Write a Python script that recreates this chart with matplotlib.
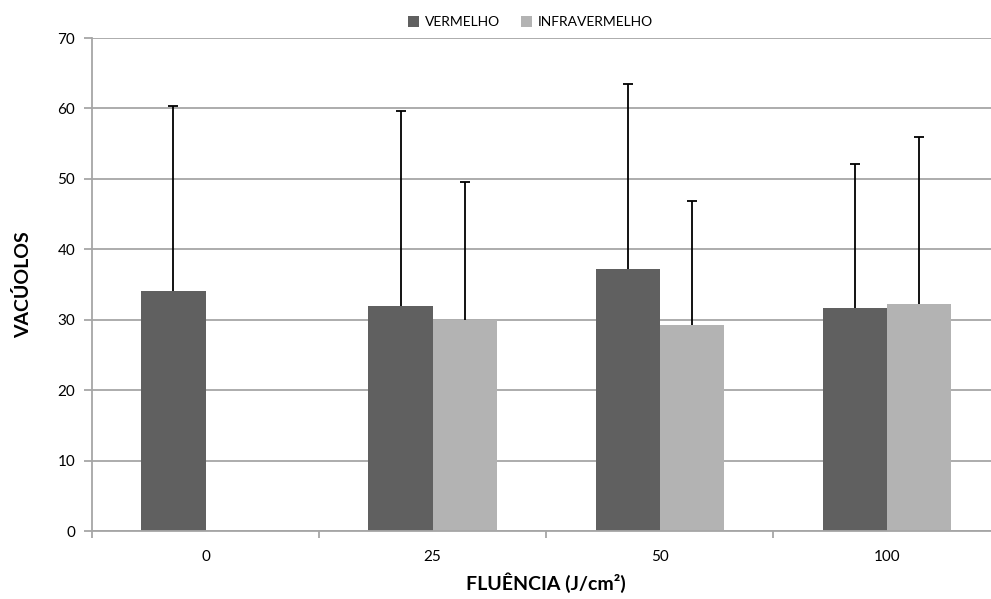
import numpy as np
import matplotlib
matplotlib.use("Agg")
import matplotlib.pyplot as plt
from matplotlib.ticker import FixedLocator

plt.rcParams["font.family"] = ["Lato", "DejaVu Sans"]

categories = ["0", "25", "50", "100"]
vermelho = [34.1, 32.0, 37.2, 31.6]
vermelho_err = [26.3, 27.7, 26.3, 20.5]
infra = [np.nan, 30.0, 29.3, 32.2]
infra_err = [0.0, 19.6, 17.6, 23.7]

DARK = "#606060"
LIGHT = "#b3b3b3"
GRID = "#a6a6a6"

fig = plt.figure(figsize=(9.91, 5.99), dpi=100)
ax = fig.add_axes([0.0928, 0.1135, 0.9168, 0.823])

x = np.arange(len(categories))
w = 0.283
err_kw = dict(ecolor="black", elinewidth=1.3, capsize=3.5, capthick=1.3)

b1 = ax.bar(x - w / 2, vermelho, w, color=DARK, label="VERMELHO", zorder=2,
            yerr=[np.zeros(len(vermelho)), vermelho_err], error_kw=err_kw)
b2 = ax.bar(x + w / 2, infra, w, color=LIGHT, label="INFRAVERMELHO", zorder=2,
            yerr=[np.zeros(len(infra)), infra_err], error_kw=err_kw)

# only the upper whisker has a cap
for b in (b1, b2):
    caps = b.errorbar.lines[1]
    caps[0].set_visible(False)

ax.set_xlim(-0.5, len(categories) - 0.5)
ax.set_ylim(0, 70)
ax.set_yticks(np.arange(0, 71, 10))
ax.yaxis.grid(True, color=GRID, linewidth=1.3, zorder=0)
ax.set_axisbelow(True)

ax.set_xticks(x)
ax.set_xticklabels(categories)
ax.xaxis.set_minor_locator(FixedLocator(np.arange(-0.5, len(categories), 1.0)))
ax.tick_params(axis="x", which="major", length=0, pad=14, labelsize=11)
ax.tick_params(axis="x", which="minor", length=5, color=GRID, width=1.3)
ax.tick_params(axis="y", length=6, color=GRID, width=1.3, labelsize=11, pad=6)

for s in ["top", "right"]:
    ax.spines[s].set_visible(False)
for s in ["left", "bottom"]:
    ax.spines[s].set_color(GRID)
    ax.spines[s].set_linewidth(1.3)

ax.set_xlabel("FLUÊNCIA (J/cm²)", fontsize=14, fontweight="bold", labelpad=6)
ax.set_ylabel("VACÚOLOS", fontsize=14, fontweight="bold", labelpad=18)

fig.legend(loc="center", bbox_to_anchor=(0.535, 0.963), ncol=2, frameon=False,
           fontsize=10, handlelength=0.8, handleheight=0.8, handletextpad=0.4,
           columnspacing=1.5)

fig.savefig("out.png", dpi=100)
